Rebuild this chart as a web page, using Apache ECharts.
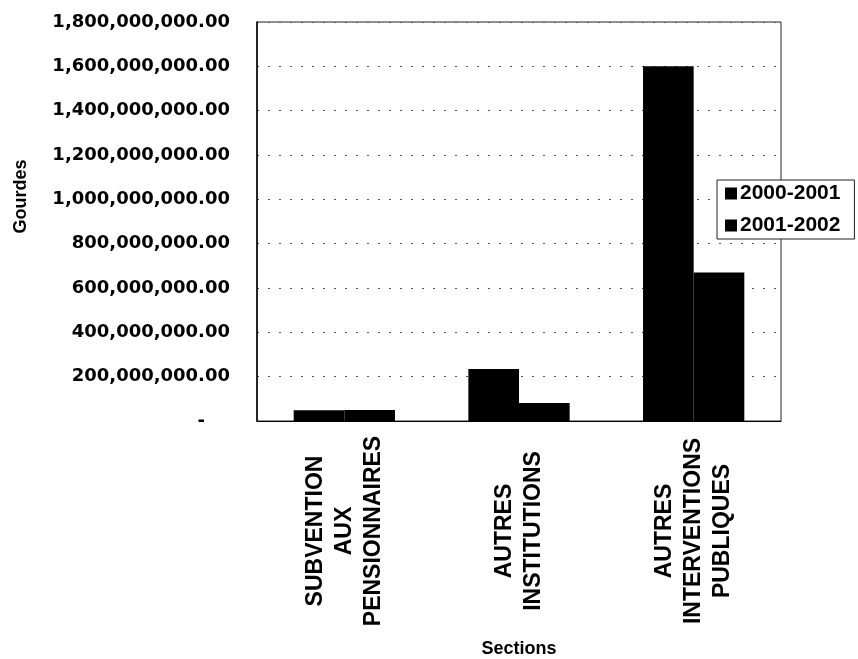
<!DOCTYPE html>
<html lang="fr">
<head>
    <meta charset="UTF-8">
    <title>Gourdes par section</title>
    <script src="https://cdn.jsdelivr.net/npm/echarts@6/dist/echarts.min.js"></script>
</head>
<style>
    html,body{margin:0;padding:0;background:#fff;}
    #chart{width:858px;height:659px;}
</style>
<body>
    <div id="chart"></div>
</body>
</html>

<script>
    // données
    let sections=['SUBVENTION\nAUX\nPENSIONNAIRES','AUTRES\nINSTITUTIONS','AUTRES\nINTERVENTIONS\nPUBLIQUES'];
    let annees=['2000-2001','2001-2002'];
    let val2000=[48000000,235000000,1600000000];
    let val2001=[50000000,81000000,670000000];
    let yMax=1800000000;
    let yStep=200000000;

    function fmt(v){
        if(v===0) return '-    ';
        let s=Math.round(v).toString().replace(/\B(?=(\d{3})+(?!\d))/g,',');
        return s+'.00';
    }

    let chart=echarts.init(document.getElementById('chart'));
    chart.setOption({
        backgroundColor:'#fff',
        animation:false,
        color:['#000','#000'],
        grid:{
            left:257,right:77,top:22,bottom:238,
            outerBoundsMode:'none',
            show:true,borderColor:'#222',borderWidth:1
        },
        legend:{
            data:annees,
            orient:'vertical',
            left:717,top:180,
            padding:[3,14,3,8],
            itemGap:11,
            itemWidth:12,itemHeight:12,
            icon:'rect',
            backgroundColor:'#fff',
            borderColor:'#222',borderWidth:1,
            textStyle:{fontFamily:'Liberation Sans',fontWeight:'bold',fontSize:21,color:'#000',padding:[0,0,0,-2]}
        },
        xAxis:{
            type:'category',
            data:sections,
            name:'Sections',
            nameLocation:'middle',
            nameGap:219,
            nameTextStyle:{fontFamily:'Liberation Sans',fontWeight:'bold',fontSize:18,color:'#000'},
            axisLine:{lineStyle:{color:'#000',width:1}},
            axisTick:{show:false},
            axisLabel:{
                rotate:90,
                margin:110,
                align:'center',
                verticalAlign:'middle',
                fontFamily:'Liberation Sans',fontWeight:'bold',fontSize:23,
                lineHeight:29,color:'#000'
            }
        },
        yAxis:{
            type:'value',
            min:0,max:yMax,interval:yStep,
            name:'Gourdes',
            nameLocation:'middle',
            nameGap:227,
            nameTextStyle:{fontFamily:'Liberation Sans',fontWeight:'bold',fontSize:18,color:'#000',padding:[0,0,0,50]},
            axisLine:{show:true,lineStyle:{color:'#000',width:1.5}},
            axisTick:{show:false},
            axisLabel:{
                margin:27,
                fontFamily:'DejaVu Sans',fontWeight:'bold',fontSize:18,color:'#000',
                formatter:fmt
            },
            splitLine:{lineStyle:{color:'#555',width:1,type:[2,9]}}
        },
        series:[
            {name:annees[0],type:'bar',data:val2000,barGap:'0%',barCategoryGap:'42%',itemStyle:{color:'#000'}},
            {name:annees[1],type:'bar',data:val2001,barGap:'0%',barCategoryGap:'42%',itemStyle:{color:'#000'}}
        ]
    });
</script>
